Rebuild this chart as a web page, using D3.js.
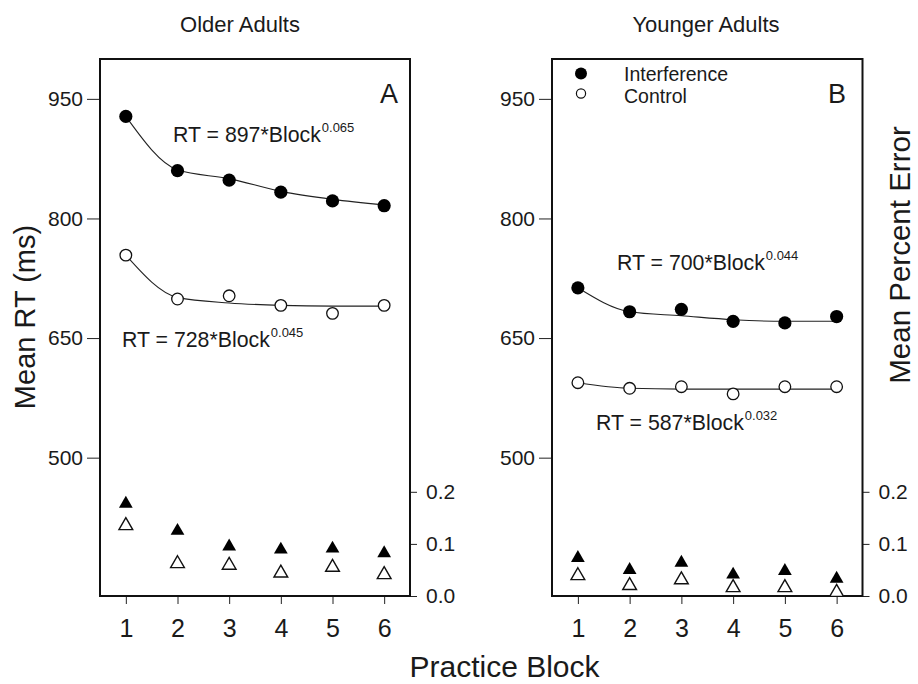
<!DOCTYPE html>
<html>
<head>
<meta charset="utf-8">
<script src="https://cdn.jsdelivr.net/npm/d3@7"></script>
<style>
  html, body { margin: 0; padding: 0; background: #fff; }
  svg { display: block; }
  text { font-family: "Liberation Sans", Arial, Helvetica, sans-serif; fill: #1a1a1a; }
</style>
</head>
<body>
<svg id="chart" width="918" height="684"></svg>
<script>
// ---------- data ----------
const blocks = [1, 2, 3, 4, 5, 6];
const rtTicks = [500, 650, 800, 950];
const errTicks = [0.0, 0.1, 0.2];
const errTickLabels = ["0.0", "0.1", "0.2"];

const olderInterfRT    = [928, 860, 848, 833, 822, 816];
const olderControlRT   = [754, 699, 703, 691, 681, 691];
const olderInterfFit   = [928, 861, 850, 834, 824, 817];
const olderControlFit  = [754, 701, 694, 691, 690, 690];
const olderInterfErr   = [0.177, 0.125, 0.095, 0.089, 0.091, 0.082];
const olderControlErr  = [0.135, 0.062, 0.059, 0.044, 0.055, 0.041];

const youngerInterfRT   = [713, 683, 686, 671, 669, 677];
const youngerControlRT  = [594, 587, 589, 580, 589, 589];
const youngerInterfFit  = [713, 683, 678, 673, 671, 671];
const youngerControlFit = [594, 587, 586, 586, 586, 586];
const youngerInterfErr  = [0.073, 0.050, 0.064, 0.041, 0.048, 0.033];
const youngerControlErr = [0.039, 0.020, 0.031, 0.016, 0.016, 0.007];

const panelTitles = ["Older Adults", "Younger Adults"];
const panelLetters = ["A", "B"];
const equations = [
  [{ base: "RT = 897*Block", exp: "0.065" }, { base: "RT = 728*Block", exp: "0.045" }],
  [{ base: "RT = 700*Block", exp: "0.044" }, { base: "RT = 587*Block", exp: "0.032" }]
];
const legendLabels = ["Interference", "Control"];

// ---------- layout ----------
const svg = d3.select("#chart");
const plotTop = 59, plotBottom = 596;
const panels = [
  { left: 100, right: 410, titleX: 240,
    interfRT: olderInterfRT, controlRT: olderControlRT,
    interfFit: olderInterfFit, controlFit: olderControlFit,
    interfErr: olderInterfErr, controlErr: olderControlErr,
    eqPos: [[173, 141.5], [122, 346.5]], letterX: 380 },
  { left: 552, right: 862.5, titleX: 706,
    interfRT: youngerInterfRT, controlRT: youngerControlRT,
    interfFit: youngerInterfFit, controlFit: youngerControlFit,
    interfErr: youngerInterfErr, controlErr: youngerControlErr,
    eqPos: [[617, 270], [596, 430]], letterX: 828 }
];

const yRT = d3.scaleLinear().domain([326.5, 1000]).range([plotBottom, plotTop]);
const yErr = d3.scaleLinear().domain([0, 0.2]).range([plotBottom, 491.8]);

const line = (x) => d3.line()
  .x((d, i) => x(blocks[i]))
  .y(d => yRT(d))
  .curve(d3.curveMonotoneX);

const tri = d3.symbol().type(d3.symbolTriangle).size(82);

panels.forEach((p, pi) => {
  const x = d3.scaleLinear().domain([0.5, 6.5]).range([p.left, p.right]);
  const g = svg.append("g");

  // title
  g.append("text").attr("x", p.titleX).attr("y", 31.5)
    .attr("text-anchor", "middle").attr("font-size", 22)
    .text(panelTitles[pi]);

  // left axis
  const ax = d3.axisLeft(yRT).tickValues(rtTicks).tickSize(13).tickPadding(4)
    .tickFormat(d3.format("d"));
  const gl = g.append("g").attr("transform", `translate(${p.left},0)`).call(ax);
  gl.select(".domain").remove();
  gl.selectAll(".tick line").attr("stroke", "#222").attr("stroke-width", 1);
  gl.selectAll(".tick text").attr("font-size", 21).attr("fill", "#1a1a1a")
    .attr("font-family", "Liberation Sans, Arial, sans-serif");

  // right axis (errors)
  const ar = d3.axisRight(yErr).tickValues(errTicks).tickSize(7).tickPadding(9)
    .tickFormat((d, i) => errTickLabels[i]);
  const gr = g.append("g").attr("transform", `translate(${p.right},0)`).call(ar);
  gr.select(".domain").remove();
  gr.selectAll(".tick line").attr("stroke", "#222").attr("stroke-width", 1);
  gr.selectAll(".tick text").attr("font-size", 21).attr("fill", "#1a1a1a")
    .attr("font-family", "Liberation Sans, Arial, sans-serif");

  // bottom axis
  const ab = d3.axisBottom(x).tickValues(blocks).tickSize(8).tickPadding(15)
    .tickFormat(d3.format("d"));
  const gb = g.append("g").attr("transform", `translate(0,${plotBottom})`).call(ab);
  gb.select(".domain").remove();
  gb.selectAll(".tick line").attr("stroke", "#222").attr("stroke-width", 1);
  gb.selectAll(".tick text").attr("font-size", 25).attr("fill", "#1a1a1a")
    .attr("font-family", "Liberation Sans, Arial, sans-serif");

  // frame
  g.append("rect").attr("x", p.left).attr("y", plotTop)
    .attr("width", p.right - p.left).attr("height", plotBottom - plotTop)
    .attr("fill", "none").attr("stroke", "#111").attr("stroke-width", 2);

  // fit lines
  g.append("path").datum(p.interfFit).attr("d", line(x))
    .attr("fill", "none").attr("stroke", "#222").attr("stroke-width", 1.1);
  g.append("path").datum(p.controlFit).attr("d", line(x))
    .attr("fill", "none").attr("stroke", "#222").attr("stroke-width", 1.1);

  // RT points
  g.selectAll(".ci").data(p.interfRT).enter().append("circle")
    .attr("cx", (d, i) => x(blocks[i])).attr("cy", d => yRT(d)).attr("r", 6.6)
    .attr("fill", "#000");
  g.selectAll(".cc").data(p.controlRT).enter().append("circle")
    .attr("cx", (d, i) => x(blocks[i])).attr("cy", d => yRT(d)).attr("r", 5.8)
    .attr("fill", "#fff").attr("stroke", "#111").attr("stroke-width", 1.3);

  // error triangles
  g.selectAll(".ti").data(p.interfErr).enter().append("path")
    .attr("d", tri).attr("transform", (d, i) => `translate(${x(blocks[i])},${yErr(d)})`)
    .attr("fill", "#000");
  g.selectAll(".tc").data(p.controlErr).enter().append("path")
    .attr("d", tri).attr("transform", (d, i) => `translate(${x(blocks[i])},${yErr(d)})`)
    .attr("fill", "#fff").attr("stroke", "#111").attr("stroke-width", 1.4);

  // equations
  equations[pi].forEach((eq, k) => {
    const t = g.append("text").attr("x", p.eqPos[k][0]).attr("y", p.eqPos[k][1])
      .attr("font-size", 21.3);
    t.append("tspan").text(eq.base);
    t.append("tspan").attr("font-size", 13).attr("dy", -10).attr("dx", 1).text(eq.exp);
  });

  // panel letter
  g.append("text").attr("x", p.letterX).attr("y", 103)
    .attr("font-size", 27).text(panelLetters[pi]);
});

// legend (panel B)
svg.append("circle").attr("cx", 581).attr("cy", 73.5).attr("r", 6).attr("fill", "#000");
svg.append("circle").attr("cx", 581).attr("cy", 93.5).attr("r", 4.6)
  .attr("fill", "#fff").attr("stroke", "#111").attr("stroke-width", 1.2);
svg.append("text").attr("x", 624).attr("y", 80.8).attr("font-size", 19.5).text(legendLabels[0]);
svg.append("text").attr("x", 624).attr("y", 102.7).attr("font-size", 19.5).text(legendLabels[1]);

// axis titles
svg.append("text").attr("transform", "translate(35,317) rotate(-90)")
  .attr("text-anchor", "middle").attr("font-size", 29).text("Mean RT (ms)");
svg.append("text").attr("transform", "translate(910,255) rotate(-90)")
  .attr("text-anchor", "middle").attr("font-size", 29.5).text("Mean Percent Error");
svg.append("text").attr("x", 504.5).attr("y", 676.5)
  .attr("text-anchor", "middle").attr("font-size", 30).text("Practice Block");
</script>
</body>
</html>
